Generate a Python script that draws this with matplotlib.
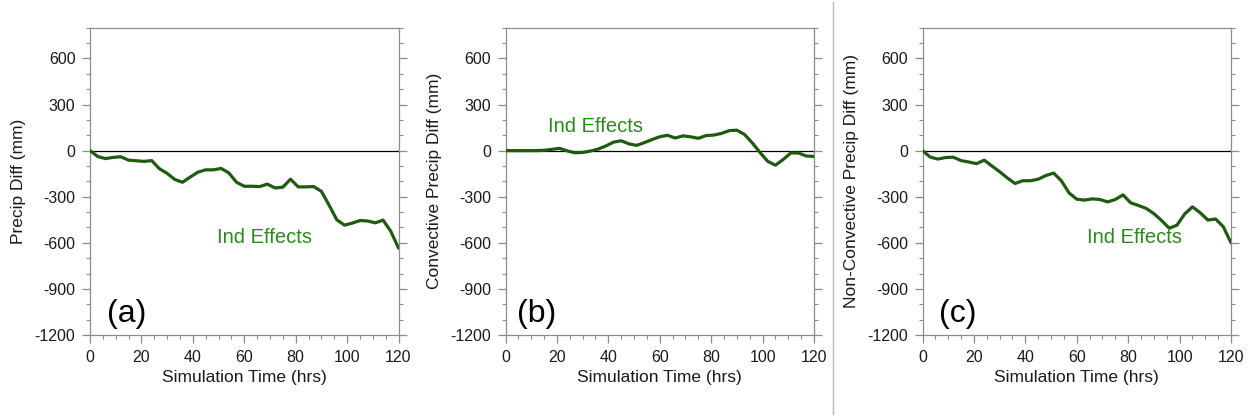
import matplotlib
matplotlib.use("Agg")
import matplotlib.pyplot as plt
from matplotlib.ticker import MultipleLocator
from matplotlib.lines import Line2D

plt.rcParams['font.family'] = ['Liberation Sans', 'DejaVu Sans']

hours = list(range(0, 121, 3))

precip_diff = [0, -38, -52, -44, -40, -62, -66, -70, -65, -118, -148, -188, -206, -172,
               -140, -125, -125, -116, -145, -206, -232, -232, -234, -218, -243, -238,
               -186, -236, -236, -234, -265, -355, -450, -485, -472, -455, -458, -470,
               -452, -525, -634]

conv_diff = [0, 0, 0, 0, 0, 2, 8, 15, -2, -14, -12, -3, 10, 30, 55, 64, 44, 34, 52, 72,
             90, 100, 82, 96, 90, 80, 98, 101, 112, 130, 133, 105, 50, -12, -70, -95,
             -58, -15, -16, -35, -38]

nonconv_diff = [0, -42, -55, -45, -43, -65, -74, -85, -62, -100, -137, -178, -214, -196,
                -196, -186, -162, -146, -196, -275, -316, -322, -314, -318, -334, -318,
                -288, -340, -357, -376, -410, -455, -505, -485, -412, -366, -404, -452,
                -445, -495, -600]

series = [precip_diff, conv_diff, nonconv_diff]
ylabels = ["Precip Diff (mm)", "Convective Precip Diff (mm)", "Non-Convective Precip Diff (mm)"]
panel_tags = ["(a)", "(b)", "(c)"]
label_pos = [(68, -563), (35, 158), (82.5, -563)]
tag_pos = [(14.4, -1066), (12, -1066), (13.8, -1066)]
yticks = [600, 300, 0, -300, -600, -900, -1200]
xticks = [0, 20, 40, 60, 80, 100, 120]

W, H = 1251, 418
fig = plt.figure(figsize=(W / 100, H / 100), dpi=100)

lefts = [90, 505.5, 922.5]
axw, top, bot = 308.5, 27.7, 335.0
line_col = '#1d5c10'
text_col = '#2b8a1c'
spine_col = '#8c8c8c'

for i in range(3):
    ax = fig.add_axes([lefts[i] / W, 1 - bot / H, axw / W, (bot - top) / H])
    ax.plot(hours, series[i], color=line_col, lw=2.3, solid_capstyle='round', zorder=3)
    ax.axhline(0, color='black', lw=0.9, zorder=2)
    ax.set_xlim(0, 120)
    ax.set_ylim(-1200, 800)
    ax.set_xticks(xticks)
    ax.set_yticks(yticks)
    ax.set_yticklabels([str(v) for v in yticks])
    ax.xaxis.set_minor_locator(MultipleLocator(5))
    ax.yaxis.set_minor_locator(MultipleLocator(100))
    for s in ax.spines.values():
        s.set_color(spine_col)
        s.set_linewidth(0.9)
    ax.tick_params(which='major', direction='out', length=5.5, width=0.9, color=spine_col,
                   labelsize=11.5, labelcolor='#1a1a1a', pad=5,
                   right=True, top=False)
    ax.tick_params(which='minor', direction='out', length=3, width=0.8, color=spine_col,
                   right=True, top=False)
    ax.set_xlabel("Simulation Time (hrs)", fontsize=12.5, color='#1a1a1a', labelpad=4)
    ax.set_ylabel(ylabels[i], fontsize=12.5, color='#1a1a1a', labelpad=6)
    ax.text(label_pos[i][0], label_pos[i][1], "Ind Effects", color=text_col, fontsize=14.5,
            ha='center', va='center')
    ax.text(tag_pos[i][0], tag_pos[i][1], panel_tags[i], color='black', fontsize=23,
            ha='center', va='center')

fig.add_artist(Line2D([833 / W, 833 / W], [1 - 2 / H, 1 - 414 / H], color='#bbbbbb', lw=1.0))

fig.savefig("out.png", dpi=100, facecolor='white')
